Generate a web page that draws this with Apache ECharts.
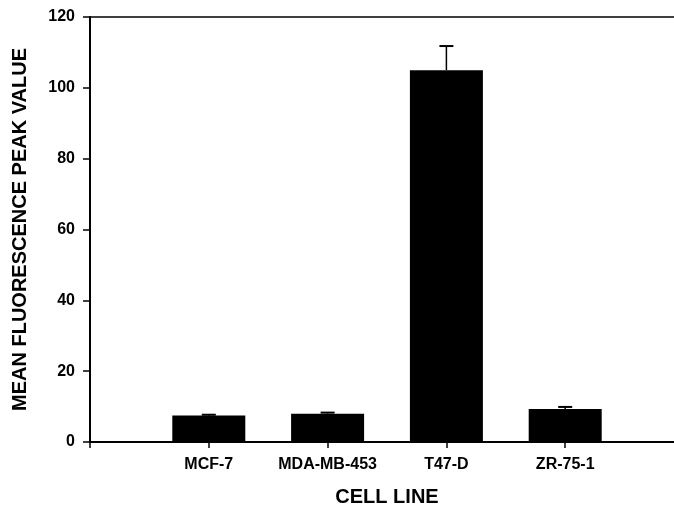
<!DOCTYPE html>
<html>
<head>
<meta charset="utf-8">
<script src="https://cdn.jsdelivr.net/npm/echarts@6/dist/echarts.min.js"></script>
<style>
html,body{margin:0;padding:0;background:#fff;}
#chart{width:674px;height:506px;}
</style>
</head>
<body>
<div id="chart"></div>
<script>
// Categories (blank entries pad the axis as in the original figure)
var categories = ['', 'MCF-7', 'MDA-MB-453', 'T47-D', 'ZR-75-1', ''];
var meanValues = ['-', 7.5, 8.0, 105.0, 9.3, '-'];
var errorPlus = [null, 0.2, 0.3, 6.8, 0.6, null];
var yTicks = [0, 20, 40, 60, 80, 100, 120];

var errData = [];
for (var i = 0; i < categories.length; i++) {
  if (errorPlus[i] !== null) errData.push([i, meanValues[i], errorPlus[i]]);
}

var font = '"Liberation Sans", Arial, Helvetica, sans-serif';
var chart = echarts.init(document.getElementById('chart'));
chart.setOption({
  backgroundColor: '#fff',
  animation: false,
  grid: {
    left: 90, top: 17, bottom: 64, right: -10,
    outerBoundsMode: 'none',
    containLabel: false,
    show: true, borderColor: '#000', borderWidth: 1.5
  },
  xAxis: {
    type: 'category',
    data: categories,
    boundaryGap: false,
    name: 'CELL LINE',
    nameLocation: 'middle',
    nameGap: 45,
    nameTextStyle: { fontFamily: font, fontWeight: 'bold', fontSize: 20, color: '#000' },
    axisLine: { lineStyle: { color: '#000', width: 2 } },
    axisTick: { show: true, length: 6, lineStyle: { color: '#000', width: 1.5 } },
    axisLabel: { fontFamily: font, fontWeight: 'bold', fontSize: 16, color: '#000', margin: 15, interval: 0 },
    splitLine: { show: false }
  },
  yAxis: {
    type: 'value',
    min: yTicks[0],
    max: yTicks[yTicks.length - 1],
    interval: yTicks[1] - yTicks[0],
    name: 'MEAN FLUORESCENCE PEAK VALUE',
    nameLocation: 'middle',
    nameGap: 60,
    nameTextStyle: { fontFamily: font, fontWeight: 'bold', fontSize: 20, color: '#000' },
    axisLine: { show: true, lineStyle: { color: '#000', width: 2 } },
    axisTick: { show: true, length: 7, lineStyle: { color: '#000', width: 1.5 } },
    axisLabel: { fontFamily: font, fontWeight: 'bold', fontSize: 16, color: '#000', margin: 15 },
    splitLine: { show: false }
  },
  series: [
    {
      type: 'bar',
      data: meanValues,
      barWidth: 73,
      itemStyle: { color: '#000' }
    },
    {
      type: 'custom',
      data: errData,
      z: 5,
      renderItem: function (params, api) {
        var x = api.value(0);
        var m = api.value(1);
        var e = api.value(2);
        var p0 = api.coord([x, m]);
        var p1 = api.coord([x, m + e]);
        var cap = 7;
        return {
          type: 'group',
          children: [
            { type: 'line', shape: { x1: p0[0], y1: p0[1], x2: p1[0], y2: p1[1] }, style: { stroke: '#000', lineWidth: 1.5 } },
            { type: 'line', shape: { x1: p1[0] - cap, y1: p1[1], x2: p1[0] + cap, y2: p1[1] }, style: { stroke: '#000', lineWidth: 2 } }
          ]
        };
      }
    }
  ]
});
</script>
</body>
</html>
